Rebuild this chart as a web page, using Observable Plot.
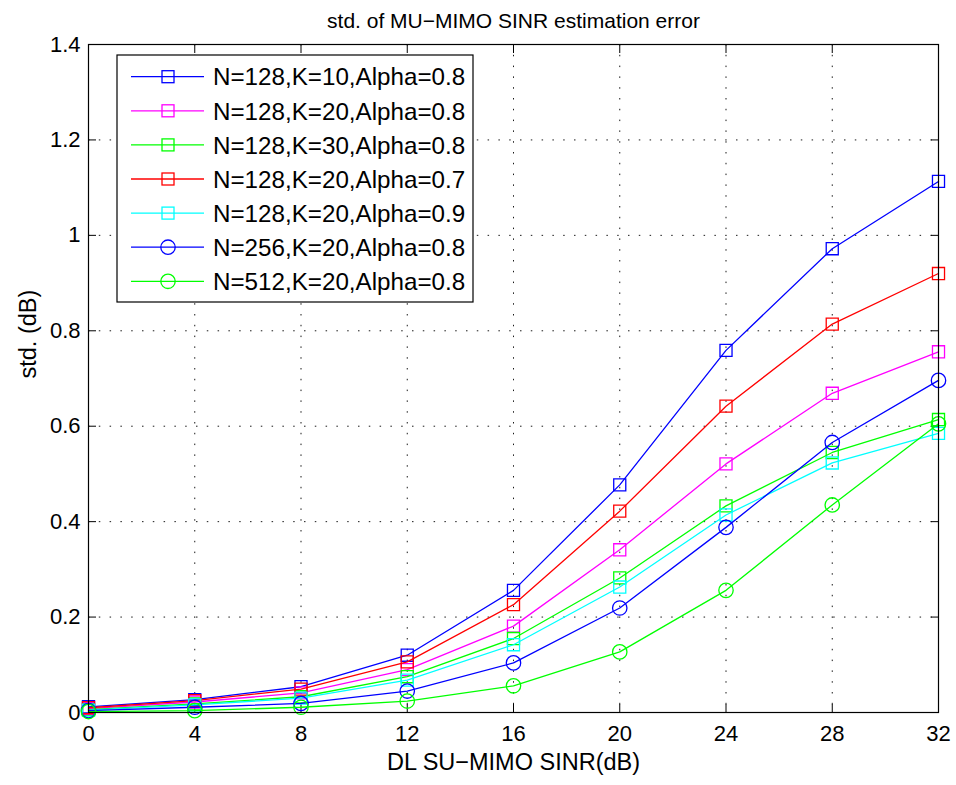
<!DOCTYPE html>
<html>
<head>
<meta charset="utf-8">
<script src="https://cdn.jsdelivr.net/npm/d3@7"></script>
<script src="https://cdn.jsdelivr.net/npm/@observablehq/plot@0.6"></script>
<style>
  body { margin: 0; background: #fff; }
  #chart { width: 956px; height: 785px; }
</style>
</head>
<body>
<div id="chart"></div>
<script>
const snr = [0, 4, 8, 12, 16, 20, 24, 28, 32];
const xTicks = [0, 4, 8, 12, 16, 20, 24, 28, 32];
const yTicks = [0, 0.2, 0.4, 0.6, 0.8, 1.0, 1.2, 1.4];

const labels = [
  "N=128,K=10,Alpha=0.8",
  "N=128,K=20,Alpha=0.8",
  "N=128,K=30,Alpha=0.8",
  "N=128,K=20,Alpha=0.7",
  "N=128,K=20,Alpha=0.9",
  "N=256,K=20,Alpha=0.8",
  "N=512,K=20,Alpha=0.8"
];
const colors = ["#0000ff", "#ff00ff", "#00ff00", "#ff0000", "#00ffff", "#0000ff", "#00ff00"];
const symbols = ["square", "square", "square", "square", "square", "circle", "circle"];

const s1 = [0.012, 0.027, 0.054, 0.120, 0.256, 0.477, 0.759, 0.972, 1.113];
const s2 = [0.008, 0.022, 0.041, 0.090, 0.181, 0.341, 0.521, 0.669, 0.756];
const s3 = [0.006, 0.018, 0.033, 0.075, 0.155, 0.282, 0.433, 0.545, 0.614];
const s4 = [0.010, 0.025, 0.049, 0.106, 0.226, 0.422, 0.642, 0.814, 0.920];
const s5 = [0.005, 0.016, 0.030, 0.068, 0.142, 0.263, 0.414, 0.523, 0.585];
const s6 = [0.004, 0.011, 0.019, 0.045, 0.104, 0.219, 0.388, 0.566, 0.696];
const s7 = [0.002, 0.004, 0.011, 0.024, 0.056, 0.127, 0.256, 0.435, 0.605];
const seriesValues = [s1, s2, s3, s4, s5, s6, s7];

const title = "std. of MU\u2212MIMO SINR estimation error";
const xLabel = "DL SU\u2212MIMO SINR(dB)";
const yLabel = "std. (dB)";

const FONT = "'Liberation Sans', Arial, Helvetica, sans-serif";

const data = seriesValues.map((vals, i) =>
  vals.map((v, j) => ({x: snr[j], y: v, s: i}))
);

const lineMarks = [];
data.forEach((d, i) => {
  lineMarks.push(Plot.line(d, {x: "x", y: "y", stroke: colors[i], strokeWidth: 1.3}));
  lineMarks.push(Plot.dot(d, {
    x: "x", y: "y", stroke: colors[i], strokeWidth: 1.3, fill: "none",
    symbol: symbols[i], r: symbols[i] === "square" ? 6.8 : 7.2
  }));
});

const fmt = d => String(Math.round(d * 10) / 10);

const plot = Plot.plot({
  width: 956,
  height: 785,
  marginLeft: 88,
  marginRight: 18,
  marginTop: 44,
  marginBottom: 73,
  style: {fontFamily: FONT, background: "#fff", color: "#000", overflow: "visible"},
  x: {domain: [0, 32]},
  y: {domain: [0, 1.4]},
  marks: [
    Plot.gridX(xTicks, {stroke: "#000", strokeOpacity: 0.9, strokeDasharray: "1.5,9.3", strokeWidth: 1}),
    Plot.gridY(yTicks, {stroke: "#000", strokeOpacity: 0.9, strokeDasharray: "1.5,9.3", strokeWidth: 1}),
    // inward ticks on all four sides
    Plot.axisX(xTicks, {anchor: "bottom", tickSize: -8, fill: "none", label: null}),
    Plot.axisX(xTicks, {anchor: "top", tickSize: -8, fill: "none", label: null}),
    Plot.axisY(yTicks, {anchor: "left", tickSize: -8, fill: "none", label: null}),
    Plot.axisY(yTicks, {anchor: "right", tickSize: -8, fill: "none", label: null}),
    // tick labels
    Plot.axisX(xTicks, {anchor: "bottom", tickSize: 0, tickPadding: 13, fontSize: 22, label: null, tickFormat: fmt}),
    Plot.axisY(yTicks, {anchor: "left", tickSize: 0, tickPadding: 8, fontSize: 22, label: null, tickFormat: fmt}),
    ...lineMarks,
    Plot.frame({stroke: "#000", strokeWidth: 1.2}),
    Plot.text([title], {frameAnchor: "top", dy: -31, fontSize: 21, fill: "#000"}),
    Plot.text([xLabel], {frameAnchor: "bottom", dy: 57, fontSize: 23.5, fill: "#000"}),
    Plot.text([yLabel], {frameAnchor: "left", dx: -60, rotate: -90, fontSize: 23.5, fill: "#000"})
  ]
});

document.getElementById("chart").appendChild(plot);

// Legend (drawn inside the axes, top-left)
const svg = d3.select(plot);
const lg = svg.append("g").attr("font-family", FONT).attr("text-anchor", "start");
const lx = 117, ly = 55, lw = 356, lh = 247;
lg.append("rect").attr("x", lx).attr("y", ly).attr("width", lw).attr("height", lh)
  .attr("fill", "#fff").attr("stroke", "#000").attr("stroke-width", 1.2);
labels.forEach((lab, i) => {
  const cy = ly + 21.7 + i * 34.1;
  lg.append("line").attr("x1", lx + 14).attr("x2", lx + 87).attr("y1", cy).attr("y2", cy)
    .attr("stroke", colors[i]).attr("stroke-width", 1.3);
  if (symbols[i] === "square") {
    lg.append("rect").attr("x", lx + 51 - 6).attr("y", cy - 6).attr("width", 12).attr("height", 12)
      .attr("fill", "none").attr("stroke", colors[i]).attr("stroke-width", 1.3);
  } else {
    lg.append("circle").attr("cx", lx + 51).attr("cy", cy).attr("r", 7.2)
      .attr("fill", "none").attr("stroke", colors[i]).attr("stroke-width", 1.3);
  }
  lg.append("text").attr("x", lx + 96).attr("y", cy).attr("dy", "0.36em")
    .attr("text-anchor", "start")
    .attr("font-size", 24.2).attr("fill", "#000").text(lab);
});
</script>
</body>
</html>
